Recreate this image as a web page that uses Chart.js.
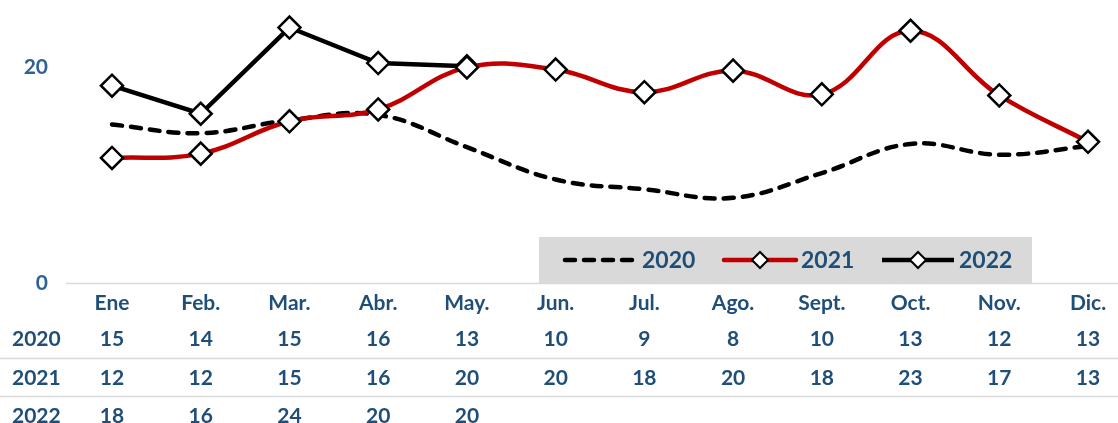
<!DOCTYPE html>
<html>
<head>
<meta charset="utf-8">
<script src="https://cdn.jsdelivr.net/npm/chart.js@4.4.1/dist/chart.umd.min.js"></script>
<style>
html, body { margin: 0; padding: 0; background: #fff; overflow: hidden; }
</style>
</head>
<body>
<canvas id="lineChart" width="1118" height="423"></canvas>
<script>
// data
const months = ['Ene', 'Feb.', 'Mar.', 'Abr.', 'May.', 'Jun.', 'Jul.', 'Ago.', 'Sept.', 'Oct.', 'Nov.', 'Dic.'];
const seriesNames = ['2020', '2021', '2022'];
const values2020 = [14.7, 13.9, 15.1, 15.6, 12.6, 9.6, 8.7, 7.9, 10.2, 12.9, 11.9, 12.7];
const values2021 = [11.6, 12.0, 15.0, 16.1, 20.0, 19.8, 17.7, 19.7, 17.5, 23.4, 17.4, 13.1];
const values2022 = [18.3, 15.7, 23.7, 20.4, 20.1];
const yTicks = [0, 20];

const textBlue = '#1F4E79';
const tickBlue = '#2E6196';
const fontFamily = 'Lato';

// data table under the plot + legend box inside the plot
const tableLegend = {
    id: 'tableLegend',
    afterDraw(chart) {
        const ctx = chart.ctx;
        const x = chart.scales.x;
        ctx.save();

        // grid lines of the table
        ctx.strokeStyle = '#D9D9D9';
        ctx.lineWidth = 1.5;
        ctx.beginPath();
        ctx.moveTo(66, 283.5); ctx.lineTo(1118, 283.5);
        ctx.moveTo(0, 358.5); ctx.lineTo(1118, 358.5);
        ctx.moveTo(0, 396.5); ctx.lineTo(1118, 396.5);
        ctx.stroke();

        // legend box
        ctx.fillStyle = '#D9D9D9';
        ctx.fillRect(539, 237, 493, 46);

        ctx.fillStyle = textBlue;
        ctx.textBaseline = 'middle';
        ctx.font = 'bold 21px ' + fontFamily;
        const rowY = [339, 378, 416];
        chart.data.datasets.forEach((ds, r) => {
            ctx.textAlign = 'left';
            ctx.fillText(ds.label, 12, rowY[r]);
            ctx.textAlign = 'center';
            ds.data.forEach((v, i) => {
                ctx.fillText(String(Math.round(v)), x.getPixelForValue(i), rowY[r]);
            });
        });

        // legend entries
        const legendX = [565, 724, 882];
        const ly = 260;
        chart.data.datasets.forEach((ds, i) => {
            const x0 = legendX[i], x1 = x0 + 72;
            ctx.strokeStyle = ds.borderColor;
            ctx.lineWidth = 4.5;
            ctx.lineCap = ds.borderCapStyle || 'butt';
            ctx.setLineDash(ds.borderDash || []);
            ctx.beginPath();
            ctx.moveTo(x0, ly); ctx.lineTo(x1, ly);
            ctx.stroke();
            ctx.setLineDash([]);
            if (ds.pointRadius > 0) {
                const cx = (x0 + x1) / 2, r = 8;
                ctx.beginPath();
                ctx.moveTo(cx - r, ly); ctx.lineTo(cx, ly - r);
                ctx.lineTo(cx + r, ly); ctx.lineTo(cx, ly + r);
                ctx.closePath();
                ctx.fillStyle = '#fff';
                ctx.fill();
                ctx.strokeStyle = '#000';
                ctx.lineWidth = 2;
                ctx.stroke();
            }
            ctx.fillStyle = textBlue;
            ctx.font = 'bold 23px ' + fontFamily;
            ctx.textAlign = 'left';
            ctx.fillText(ds.label, x1 + 5, ly + 1);
        });
        ctx.restore();
    }
};

const canvas = document.getElementById('lineChart');
const lineChart = new Chart(canvas, {
    type: 'line',
    data: {
        labels: months,
        datasets: [
            {
                label: seriesNames[0],
                data: values2020,
                borderColor: '#000000',
                borderWidth: 4.5,
                borderDash: [10, 9],
                borderCapStyle: 'round',
                pointRadius: 0,
                tension: 0.4,
                order: 3
            },
            {
                label: seriesNames[1],
                data: values2021,
                borderColor: '#C00000',
                borderWidth: 4.5,
                borderCapStyle: 'round',
                pointStyle: 'rectRot',
                pointRadius: 11,
                pointBorderWidth: 2.5,
                pointBackgroundColor: '#ffffff',
                pointBorderColor: '#000000',
                tension: 0.4,
                order: 1
            },
            {
                label: seriesNames[2],
                data: values2022,
                borderColor: '#000000',
                borderWidth: 4.5,
                pointStyle: 'rectRot',
                pointRadius: 11,
                pointBorderWidth: 2.5,
                pointBackgroundColor: '#ffffff',
                pointBorderColor: '#000000',
                tension: 0,
                order: 2
            }
        ]
    },
    options: {
        responsive: false,
        animation: false,
        devicePixelRatio: 1,
        layout: {
            padding: { top: 10, right: 30, left: 0, bottom: 0 }
        },
        scales: {
            x: {
                offset: false,
                grid: { display: false, drawTicks: false },
                border: { display: false },
                ticks: {
                    autoSkip: false,
                    maxRotation: 0,
                    padding: 8,
                    color: textBlue,
                    font: { family: fontFamily, size: 21, weight: 'bold' }
                },
                afterFit(scale) { scale.height = 140; }
            },
            y: {
                min: 0,
                max: 25,
                grid: { display: false, drawTicks: false },
                border: { display: false },
                ticks: {
                    padding: 64,
                    color: tickBlue,
                    font: { family: fontFamily, size: 21, weight: 'bold' }
                },
                afterBuildTicks(scale) {
                    scale.ticks = yTicks.map(v => ({ value: v }));
                },
                afterFit(scale) {
                    scale.width = 112;
                    // tick padding is only meant horizontally here
                    scale.paddingTop = 0;
                    scale.paddingBottom = 0;
                }
            }
        },
        plugins: {
            legend: { display: false },
            tooltip: { enabled: false }
        }
    },
    plugins: [tableLegend]
});
</script>
</body>
</html>
